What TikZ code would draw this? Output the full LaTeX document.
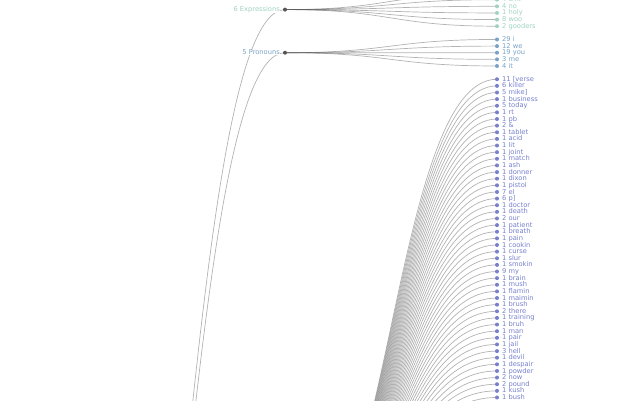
\documentclass[tikz,border=0pt]{standalone}
\usepackage{fontspec}
\setmainfont{DejaVu Sans}
\definecolor{expcol}{HTML}{A0D2C2}
\definecolor{procol}{HTML}{7AA2C6}
\definecolor{noucol}{HTML}{7680CC}
\definecolor{linkcol}{HTML}{555555}
\begin{document}
\begin{tikzpicture}[x=1pt,y=-1pt,
  link/.style={draw=linkcol, draw opacity=0.45, line width=0.7pt},
  pdot/.style={circle, fill=linkcol, inner sep=0pt, minimum size=4pt},
  ldot/.style={circle, inner sep=0pt, minimum size=4pt},
  lab/.style={inner sep=0pt, font=\fontsize{6.7}{7}\selectfont},
  plab/.style={lab, anchor=base east, fill=white},
  llab/.style={lab, anchor=base west}]
\useasboundingbox (0,0) rectangle (640,400);
\clip (0,0) rectangle (640,400);
% internal nodes
\coordinate (root) at (73,1062);
\coordinate (exp) at (285,9.6);
\coordinate (pro) at (285,52.72);
\coordinate (nou) at (285,574);
\draw[link] (root) .. controls +(106,0) and +(-106,0) .. (exp);
\draw[link] (root) .. controls +(106,0) and +(-106,0) .. (pro);
\draw[link] (root) .. controls +(106,0) and +(-106,0) .. (nou);
% Expressions leaves
\coordinate (e0) at (497,-6.95);
\draw[link] (exp) .. controls +(106,0) and +(-106,0) .. (e0);
\foreach \t [count=\i] in {{4 shit},{4 no},{1 holy},{8 woo},{2 gooders}} {
  \pgfmathsetmacro\yy{-6.95+\i*6.63}
  \coordinate (e\i) at (497,\yy);
  \draw[link] (exp) .. controls +(106,0) and +(-106,0) .. (e\i);
  \node[ldot, fill=expcol] (ed\i) at (e\i) {};
  \node[llab, text=expcol] (et\i) at (502,\yy+2.05) {\t};
}
% Pronouns leaves
\foreach \t [count=\i] in {{29 i},{12 we},{19 you},{3 me},{4 it}} {
  \pgfmathsetmacro\yy{32.83+\i*6.63}
  \coordinate (p\i) at (497,\yy);
  \draw[link] (pro) .. controls +(106,0) and +(-106,0) .. (p\i);
  \node[ldot, fill=procol] (pd\i) at (p\i) {};
  \node[llab, text=procol] (pt\i) at (502,\yy+2.05) {\t};
}
% third group leaves
\foreach \t [count=\i] in {{11 [verse},{6 killer},{5 mike]},{1 business},{5 today},{1 rt},{1 pb},{2 \&},{1 tablet},{1 acid},{1 lit},{1 joint},{1 match},{1 ash},{1 donner},{1 dixon},{1 pistol},{7 el},{6 p]},{1 doctor},{1 death},{2 our},{1 patient},{1 breath},{1 pain},{1 cookin},{1 curse},{1 slur},{1 smokin},{9 my},{1 brain},{1 mush},{1 flamin},{1 maimin},{1 brush},{2 there},{1 training},{1 bruh},{1 man},{1 pair},{1 jail},{3 hell},{1 devil},{1 despair},{1 powder},{2 now},{2 pound},{1 kush},{1 bush}} {
  \pgfmathsetmacro\yy{72.61+\i*6.63}
  \coordinate (n\i) at (497,\yy);
  \draw[link] (nou) .. controls +(106,0) and +(-106,0) .. (n\i);
  \node[ldot, fill=noucol] (nd\i) at (n\i) {};
  \node[llab, text=noucol] (nt\i) at (502,\yy+2.05) {\t};
}
% internal node dots and labels
\node[plab, text=expcol] (expl) at (280,11.65) {6 Expressions};
\node[plab, text=procol] (prol) at (280,54.77) {5 Pronouns};
\node[pdot] (expd) at (exp) {};
\node[pdot] (prod) at (pro) {};
\end{tikzpicture}
\end{document}
